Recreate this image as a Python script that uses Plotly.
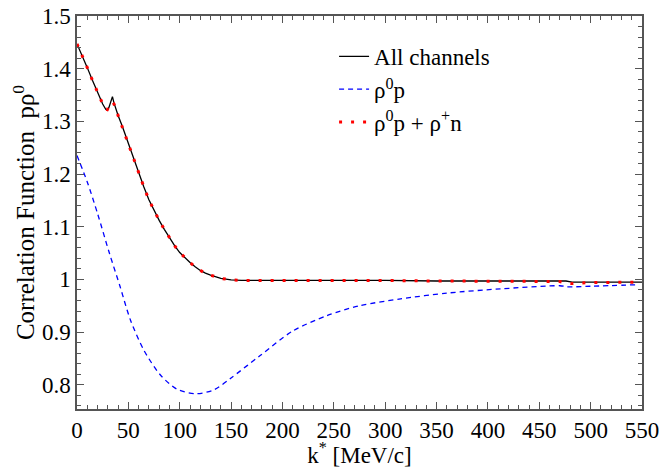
import plotly.graph_objects as go

# k* [MeV/c]
k_all = [0, 5, 10, 15, 20, 25, 28, 29.5, 31, 33, 34.5, 36, 38, 40, 44, 48, 52, 56, 60,
         65, 70, 75, 80, 85, 90, 95, 100, 105, 110, 115, 120, 125, 130, 140, 150, 160,
         175, 200, 250, 300, 350, 400, 450, 470, 476, 482, 500, 550]
c_all = [1.447, 1.426, 1.402, 1.378, 1.355, 1.333, 1.323, 1.321, 1.326, 1.337, 1.347,
         1.335, 1.322, 1.311, 1.291, 1.269, 1.245, 1.225, 1.203, 1.176, 1.151, 1.131,
         1.112, 1.095, 1.079, 1.064, 1.051, 1.041, 1.032, 1.024, 1.017, 1.012, 1.008,
         1.002, 0.999, 0.998, 0.998, 0.998, 0.999, 0.998, 0.997, 0.997, 0.996, 0.996,
         0.997, 0.995, 0.995, 0.995]

k_two = [0, 5, 10, 15, 20, 25, 28, 29.5, 31, 33, 34.5, 36, 38, 40, 44, 48, 52, 56, 60,
         65, 70, 75, 80, 85, 90, 95, 100, 105, 110, 115, 120, 125, 130, 140, 150, 160,
         175, 200, 250, 300, 350, 400, 450, 470, 476, 482, 490, 500, 550]
c_two = [1.447, 1.426, 1.402, 1.378, 1.355, 1.333, 1.323, 1.322, 1.328, 1.336, 1.337,
         1.333, 1.322, 1.311, 1.291, 1.269, 1.245, 1.225, 1.203, 1.176, 1.151, 1.131,
         1.112, 1.095, 1.079, 1.064, 1.051, 1.041, 1.032, 1.024, 1.017, 1.012, 1.008,
         1.002, 0.999, 0.998, 0.998, 0.998, 0.999, 0.998, 0.997, 0.997, 0.996, 0.996,
         0.993, 0.992, 0.993, 0.994, 0.995]

k_rho0 = [0, 10, 20, 31.5, 42, 52, 65, 81, 97, 115, 133, 150, 178, 210, 243, 275, 315,
          360, 412, 470, 478, 500, 547]
c_rho0 = [1.235, 1.185, 1.125, 1.050, 0.986, 0.923, 0.866, 0.819, 0.792, 0.783, 0.790,
          0.813, 0.855, 0.902, 0.931, 0.950, 0.963, 0.974, 0.982, 0.988, 0.986, 0.987,
          0.990]

x_ticks = [0, 50, 100, 150, 200, 250, 300, 350, 400, 450, 500, 550]
x_labels = ["0", "50", "100", "150", "200", "250", "300", "350", "400", "450", "500", "550"]
y_ticks = [0.8, 0.9, 1.0, 1.1, 1.2, 1.3, 1.4, 1.5]
y_labels = ["0.8", "0.9", "1", "1.1", "1.2", "1.3", "1.4", "1.5"]

FONT = "Liberation Serif"

fig = go.Figure()
fig.add_trace(go.Scatter(x=k_all, y=c_all, mode="lines", name="All channels",
                         line=dict(color="black", width=1.3)))
fig.add_trace(go.Scatter(x=k_rho0, y=c_rho0, mode="lines", name="ρ<sup>0</sup>p",
                         line=dict(color="#0000ff", width=1.3, dash="5px,4px", shape="spline",
                                   smoothing=0.8)))
fig.add_trace(go.Scatter(x=k_two, y=c_two, mode="lines", name="ρ<sup>0</sup>p + ρ<sup>+</sup>n",
                         line=dict(color="#ff0000", width=3, dash="3px,9px")))

axis_common = dict(
    showline=True, linecolor="#555555", linewidth=1.5, mirror="allticks",
    ticks="inside", ticklen=7, tickwidth=1, tickcolor="#555555",
    showgrid=False, zeroline=False, automargin=False,
    tickfont=dict(family=FONT, size=23, color="black"),
)

fig.update_xaxes(range=[0, 550], tickmode="array", tickvals=x_ticks, ticktext=x_labels,
                 minor=dict(dtick=10, ticks="inside", ticklen=4, tickcolor="#555555"),
                 title=dict(text="k<sup>*</sup> [MeV/c]", font=dict(family=FONT, size=23,
                            color="black"), standoff=2),
                 **axis_common)
fig.update_yaxes(range=[0.754, 1.5], tickmode="array", tickvals=y_ticks, ticktext=y_labels,
                 minor=dict(dtick=0.02, tick0=0, ticks="inside", ticklen=4,
                            tickcolor="#555555"),
                 title=dict(text="Correlation Function  pρ<sup>0</sup>",
                            font=dict(family=FONT, size=25, color="black"), standoff=0),
                 **axis_common)

fig.update_layout(
    width=662, height=468,
    margin=dict(l=77, r=20, t=16, b=59, autoexpand=False),
    paper_bgcolor="white", plot_bgcolor="white",
    showlegend=True,
    legend=dict(x=0.455, y=0.952, xanchor="left", yanchor="top",
                font=dict(family=FONT, size=23, color="black"),
                bgcolor="rgba(0,0,0,0)", itemwidth=30),
)

fig.write_html("out.html",
               config={"displayModeBar": False},
               post_script="document.body.style.margin='0';"
                           "document.body.style.overflow='hidden';")
